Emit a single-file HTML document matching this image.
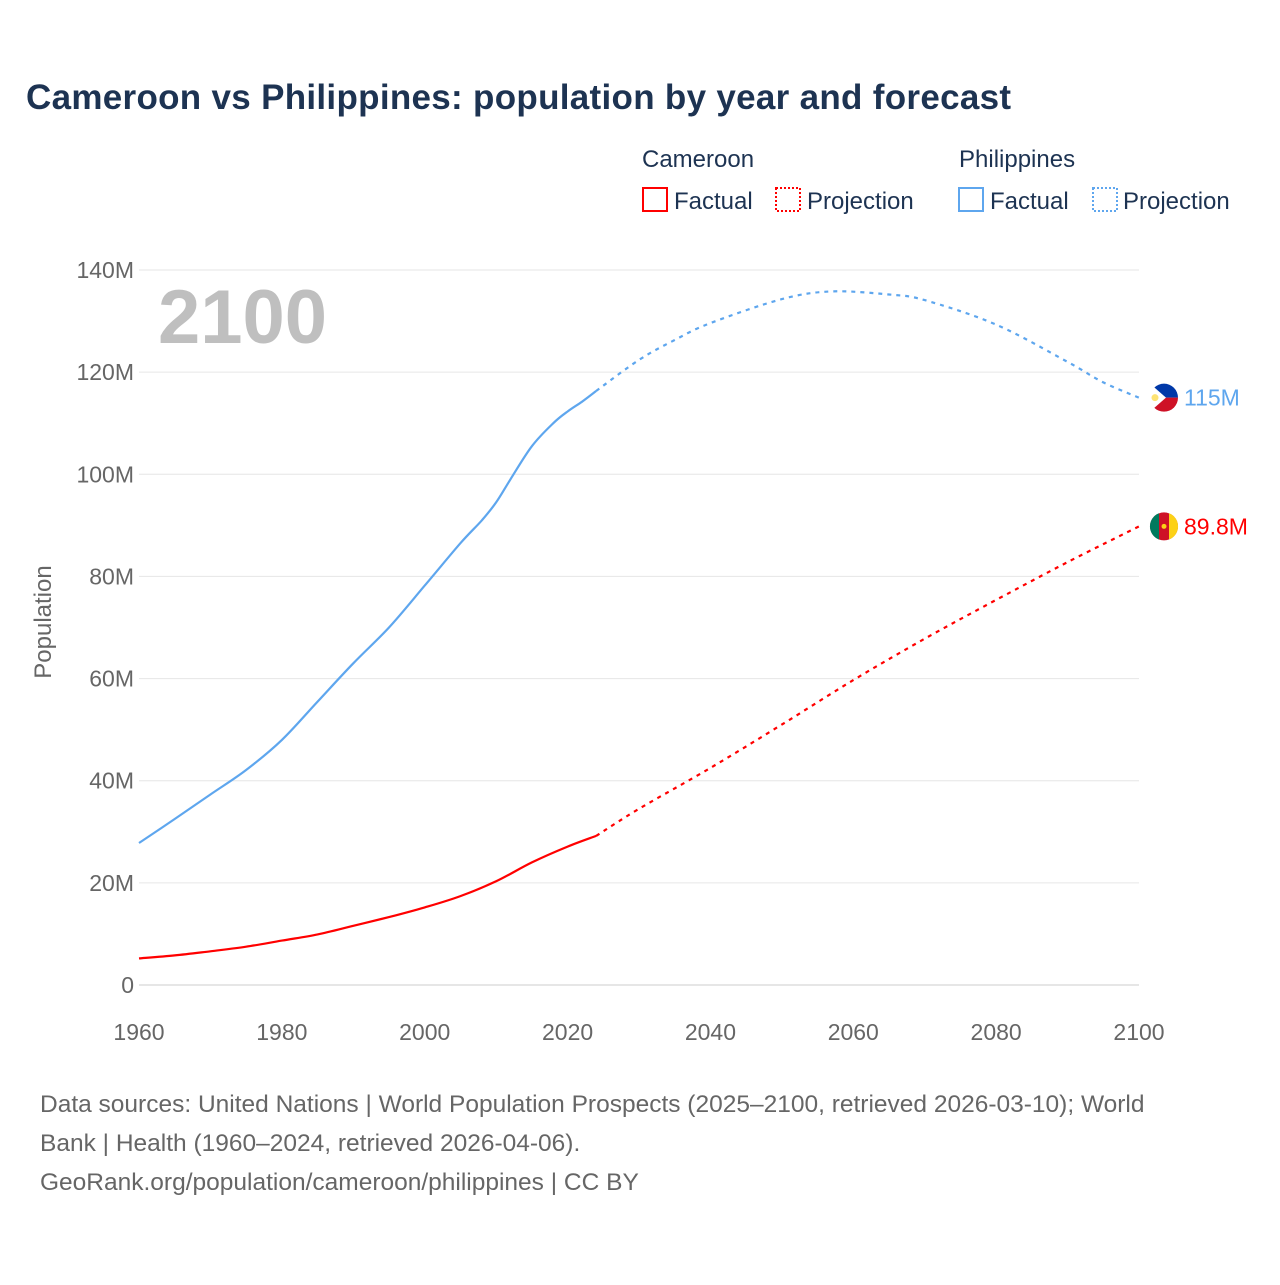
<!DOCTYPE html>
<html><head><meta charset="utf-8"><style>
body{margin:0;background:#fff;font-family:"Liberation Sans",sans-serif}
svg text{font-family:"Liberation Sans",sans-serif}
</style></head><body>
<svg id="chart" width="1280" height="1280" xmlns="http://www.w3.org/2000/svg">
<rect width="1280" height="1280" fill="#fff"/>
<text x="26" y="109" font-size="35" font-weight="bold" fill="#1d3352" letter-spacing="0.3">Cameroon vs Philippines: population by year and forecast</text>
<g font-size="24" fill="#1d3352">
<text x="642" y="167">Cameroon</text>
<text x="959" y="167">Philippines</text>
<g><rect x="643" y="188" width="24" height="23" fill="none" stroke="#f00" stroke-width="2"/><text x="674" y="209">Factual</text></g>
<g><rect x="776" y="188" width="24" height="23" fill="none" stroke="#f00" stroke-width="2" stroke-dasharray="2,2"/><text x="807" y="209">Projection</text></g>
<g><rect x="959" y="188" width="24" height="23" fill="none" stroke="#5ea6ee" stroke-width="2"/><text x="990" y="209">Factual</text></g>
<g><rect x="1093" y="188" width="24" height="23" fill="none" stroke="#5ea6ee" stroke-width="2" stroke-dasharray="2,2"/><text x="1123" y="209">Projection</text></g>
</g>
<g id="grid"></g><g id="axes"></g>
<text x="158" y="343" font-size="76" font-weight="bold" fill="#bfbfbf">2100</text>
<text transform="translate(51,622) rotate(-90)" text-anchor="middle" font-size="24" fill="#666">Population</text>
<g id="series"></g>
<g font-size="24.5" fill="#666">
<text x="40" y="1112">Data sources: United Nations | World Population Prospects (2025–2100, retrieved 2026-03-10); World</text>
<text x="40" y="1151">Bank | Health (1960–2024, retrieved 2026-04-06).</text>
<text x="40" y="1190">GeoRank.org/population/cameroon/philippines | CC BY</text>
</g>
</svg>
<script>
const yTicks=[0,20,40,60,80,100,120,140];
const yTickLabels=["0","20M","40M","60M","80M","100M","120M","140M"];
const xTicks=[1960,1980,2000,2020,2040,2060,2080,2100];
const phlFactYears=[1960,1965,1970,1975,1980,1985,1990,1995,2000,2005,2008,2010,2012,2015,2018,2020,2022,2024];
const phlFactVals=[27.8,32.5,37.3,42.1,48,55.5,63,70,78.2,86.5,91,94.5,99,105.5,110,112.3,114.2,116.3];
const phlProjYears=[2024,2030,2035,2040,2050,2057,2065,2070,2080,2090,2095,2100];
const phlProjVals=[116.3,122.4,126.3,129.6,134.3,135.8,135.2,134.1,129.3,122,118,115];
const cmrFactYears=[1960,1965,1970,1975,1980,1985,1990,1995,2000,2005,2010,2015,2020,2024];
const cmrFactVals=[5.2,5.8,6.6,7.5,8.7,9.9,11.6,13.3,15.2,17.4,20.3,24,27.1,29.2];
const cmrProjYears=[2024,2030,2040,2050,2060,2070,2080,2090,2100];
const cmrProjVals=[29.2,34.5,42.5,51,59.7,67.8,75.4,82.8,89.8];
const NS="http://www.w3.org/2000/svg";
const X=y=>139+(y-1960)*1000/140;
const Y=v=>985-v*715/140;
function mk(t,a,p){const e=document.createElementNS(NS,t);for(const k in a)e.setAttribute(k,a[k]);p.appendChild(e);return e;}
const grid=document.getElementById('grid'),axes=document.getElementById('axes'),ser=document.getElementById('series');
yTicks.forEach((v,i)=>{
 const l=mk('line',{x1:139,x2:1139,y1:Y(v),y2:Y(v),stroke:v===0?'#ccc':'#e6e6e6','stroke-width':1},grid);
 
 
 const t=mk('text',{x:134,y:Y(v)+8,'text-anchor':'end','font-size':23,fill:'#666'},axes);
 t.textContent=yTickLabels[i];
 
 
});
xTicks.forEach(y=>{
 const t=mk('text',{x:X(y),y:1040,'text-anchor':'middle','font-size':23,fill:'#666'},axes);
 t.textContent=y;
 
 
});
function smooth(pts){
 let d='M'+pts[0][0].toFixed(1)+','+pts[0][1].toFixed(1);
 for(let i=0;i<pts.length-1;i++){
  const p0=pts[i-1]||pts[i],p1=pts[i],p2=pts[i+1],p3=pts[i+2]||p2;
  const c1x=p1[0]+(p2[0]-p0[0])/6,c1y=p1[1]+(p2[1]-p0[1])/6;
  const c2x=p2[0]-(p3[0]-p1[0])/6,c2y=p2[1]-(p3[1]-p1[1])/6;
  d+=`C${c1x.toFixed(1)},${c1y.toFixed(1)} ${c2x.toFixed(1)},${c2y.toFixed(1)} ${p2[0].toFixed(1)},${p2[1].toFixed(1)}`;
 }
 return d;
}
function line(ys,vs,col,dash,name){
 const pts=ys.map((y,i)=>[X(y),Y(vs[i])]);
 const a={d:smooth(pts),fill:'none',stroke:col,'stroke-width':2.2,'stroke-linejoin':'round'};
 if(dash)a['stroke-dasharray']='4,5';
 const p=mk('path',a,ser);
 
 
}
line(phlFactYears,phlFactVals,'#5ea6ee',false,'philippines-factual-line');
line(phlProjYears,phlProjVals,'#5ea6ee',true,'philippines-projection-line');
line(cmrFactYears,cmrFactVals,'#f00',false,'cameroon-factual-line');
line(cmrProjYears,cmrProjVals,'#f00',true,'cameroon-projection-line');
const py=Y(phlProjVals[phlProjVals.length-1]), cy=Y(cmrProjVals[cmrProjVals.length-1]), ex=X(2100)+25;
const pf=mk('g',{},ser);


mk('path',{d:`M${ex-14},${py} A14,14 0 0 1 ${ex+14},${py} Z`,fill:'#0038a8'},pf);
mk('path',{d:`M${ex-14},${py} A14,14 0 0 0 ${ex+14},${py} Z`,fill:'#ce1126'},pf);
mk('path',{d:`M${ex-14},${py-14} L${ex+2},${py} L${ex-14},${py+14} Z`,fill:'#fff'},pf);
mk('circle',{cx:ex-9,cy:py,r:3.5,fill:'#fcd116','fill-opacity':0.6},pf);
const pl=mk('text',{x:ex+20,y:py+8,'font-size':23,fill:'#5ea6ee'},ser);
pl.textContent='115M';


const cf=mk('g',{},ser);


mk('circle',{cx:ex,cy:cy,r:14,fill:'#ce1126'},cf);
mk('path',{d:`M${ex-5},${cy-13.1} A14,14 0 0 0 ${ex-5},${cy+13.1} Z`,fill:'#007a5e'},cf);
mk('path',{d:`M${ex+5},${cy-13.1} A14,14 0 0 1 ${ex+5},${cy+13.1} Z`,fill:'#fcd116'},cf);
mk('circle',{cx:ex,cy:cy,r:2.5,fill:'#fcd116'},cf);
const cl=mk('text',{x:ex+20,y:cy+8,'font-size':23,fill:'#f00'},ser);
cl.textContent='89.8M';


</script>
</body></html>
